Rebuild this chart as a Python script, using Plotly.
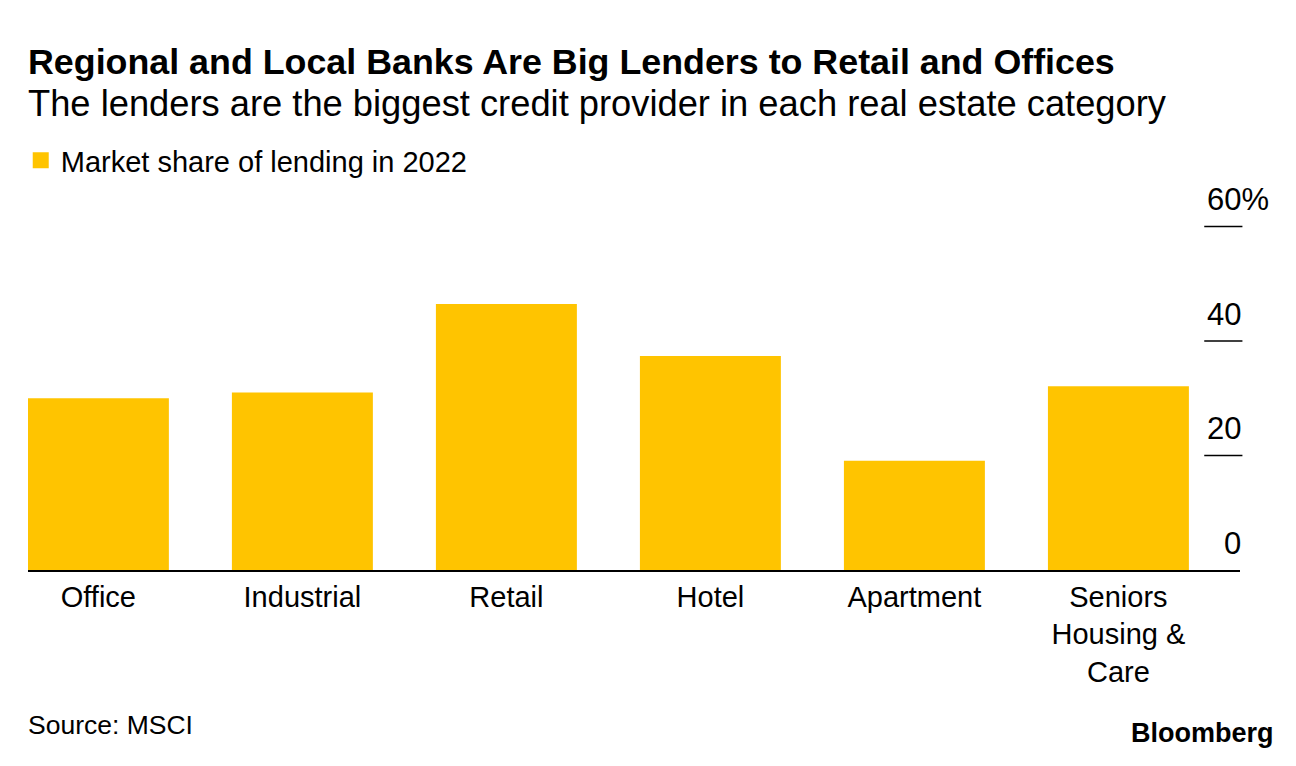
import plotly.graph_objects as go

categories = ["Office", "Industrial", "Retail", "Hotel", "Apartment", "Seniors Housing & Care"]
category_labels = ["Office", "Industrial", "Retail", "Hotel", "Apartment", "Seniors<br>Housing &amp;<br>Care"]
market_share = [30.0, 31.0, 46.5, 37.4, 19.1, 32.1]
tick_vals = [0, 20, 40, 60]
tick_labels = ["0", "20", "40", "60%"]

BAR = "#FFC400"
FONT = "Liberation Sans, Arial, sans-serif"

fig = go.Figure()
fig.add_trace(go.Bar(x=categories, y=market_share, marker=dict(color=BAR, line=dict(width=0)),
                     showlegend=False, hoverinfo="x+y"))
fig.add_trace(go.Scatter(x=[None], y=[None], mode="markers",
                         marker=dict(symbol="square", size=16, color=BAR),
                         name="Market share of lending in 2022", showlegend=True))

shapes = []
annotations = []
for v, lab in zip(tick_vals, tick_labels):
    if v != 0:
        shapes.append(dict(type="line", xref="paper", yref="y", x0=0.9705, x1=1.002, y0=v, y1=v,
                           line=dict(color="black", width=1.5)))
    if lab.endswith("%"):
        annotations.append(dict(xref="paper", yref="y", x=0.9715, y=v, yshift=27, text=lab,
                                showarrow=False, xanchor="left", yanchor="middle",
                                font=dict(family=FONT, size=31, color="black")))
    else:
        annotations.append(dict(xref="paper", yref="y", x=1.0015, y=v, yshift=27, xshift=1, text=lab,
                                showarrow=False, xanchor="right", yanchor="middle",
                                font=dict(family=FONT, size=31, color="black")))

annotations += [
    dict(xref="paper", yref="paper", x=0, y=1.3656, xshift=-2, xanchor="left", yanchor="middle", showarrow=False,
         text="<b>Regional and Local Banks Are Big Lenders to Retail and Offices</b>",
         font=dict(family=FONT, size=35.8, color="black")),
    dict(xref="paper", yref="paper", x=0, y=1.2527, xshift=-2, xanchor="left", yanchor="middle", showarrow=False,
         text="The lenders are the biggest credit provider in each real estate category",
         font=dict(family=FONT, size=36.3, color="black")),
    dict(xref="paper", yref="paper", x=0, y=-0.4167, xshift=-2, xanchor="left", yanchor="middle", showarrow=False,
         text="Source: MSCI", font=dict(family=FONT, size=26.5, color="black")),
    dict(xref="paper", yref="paper", x=1.0264, y=-0.438, xshift=4, xanchor="right", yanchor="middle", showarrow=False,
         text="<b>Bloomberg</b>", font=dict(family=FONT, size=27, color="black")),
]

fig.update_layout(
    width=1296, height=766,
    margin=dict(l=28, r=56, t=198, b=196, autoexpand=False),
    paper_bgcolor="white", plot_bgcolor="white",
    bargap=0.309,
    shapes=shapes, annotations=annotations,
    legend=dict(orientation="h", xref="container", yref="container", x=0.016, y=1 - 135 / 766,
                xanchor="left", yanchor="top", font=dict(family=FONT, size=29, color="black"),
                itemsizing="trace", bgcolor="rgba(0,0,0,0)"),
    xaxis=dict(range=[-0.345, 5.596], tickmode="array", tickvals=categories, ticktext=category_labels,
               showline=True, linecolor="black", linewidth=1.5, showgrid=False, zeroline=False,
               ticks="", tickfont=dict(family=FONT, size=29, color="black"), fixedrange=True,
               automargin=False),
    yaxis=dict(range=[0, 65], showticklabels=False, showgrid=False, zeroline=False, showline=False,
               ticks="", fixedrange=True, automargin=False),
    font=dict(family=FONT, color="black"),
)

fig.write_html("out.html", config={"displayModeBar": False},
               post_script="document.body.style.margin='0';")
